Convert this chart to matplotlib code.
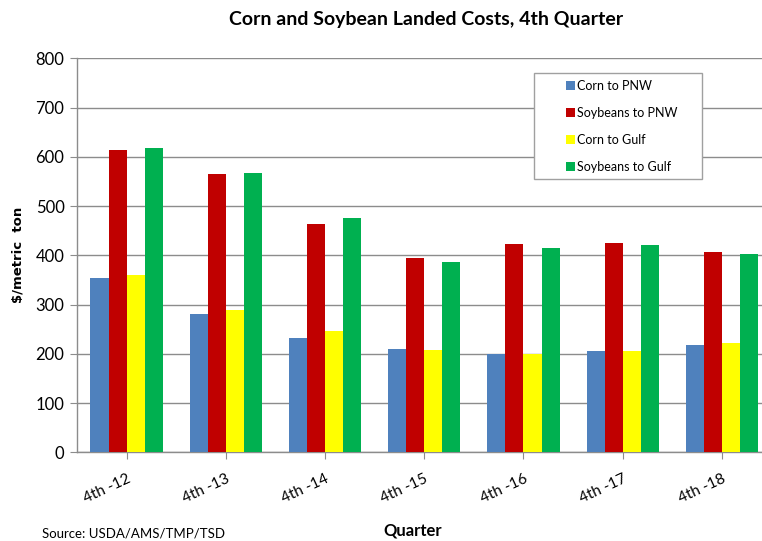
import numpy as np
import matplotlib
matplotlib.use("Agg")
import matplotlib.pyplot as plt
from matplotlib.patches import Rectangle

# Landed costs, $/metric ton, 4th quarter of each year
quarters = ['4th -12', '4th -13', '4th -14', '4th -15', '4th -16', '4th -17', '4th -18']
corn_pnw = [353, 281, 232, 210, 200, 205, 218]
soy_pnw = [614, 565, 463, 394, 423, 425, 407]
corn_gulf = [361, 289, 246, 208, 199, 206, 221]
soy_gulf = [617, 567, 475, 387, 414, 421, 403]

series = [
    ('Corn to PNW', corn_pnw, '#4F81BD'),
    ('Soybeans to PNW', soy_pnw, '#C00000'),
    ('Corn to Gulf', corn_gulf, '#FFFF00'),
    ('Soybeans to Gulf', soy_gulf, '#00B050'),
]

plt.rcParams['font.family'] = ['Lato', 'DejaVu Sans']

W, H = 762, 541
fig = plt.figure(figsize=(W / 100, H / 100), dpi=100)
ax = fig.add_axes([77 / W, 1 - 452.3 / H, 694.5 / W, 394 / H])

x = np.arange(len(quarters))
bw = 0.182
for i, (name, vals, col) in enumerate(series):
    ax.bar(x + (i - 1.5) * bw, vals, width=bw, color=col, label=name, zorder=3)

ax.set_xlim(-0.5, len(quarters) - 0.5)
ax.set_ylim(0, 800)
ax.set_yticks(range(0, 801, 100))
ax.grid(axis='y', color='#8c8c8c', linewidth=1, zorder=0)
ax.set_axisbelow(True)

for s in ['top', 'right']:
    ax.spines[s].set_visible(False)
for s in ['left', 'bottom']:
    ax.spines[s].set_color('#8c8c8c')
    ax.spines[s].set_linewidth(1)

ax.set_xticks(x)
ax.set_xticklabels(quarters, rotation=25, ha='right', rotation_mode='anchor', fontsize=11)
ax.tick_params(axis='x', length=5, color='#8c8c8c', pad=9)
ax.tick_params(axis='y', length=5, color='#8c8c8c', labelsize=12, pad=4)

fig.text(426 / W, 1 - 20 / H, 'Corn and Soybean Landed Costs, 4th Quarter',
         ha='center', va='center', fontsize=14, fontweight='bold')
fig.text(18 / W, 1 - 255 / H, '$/metric  ton', rotation=90, ha='center', va='center',
         fontsize=9.5, fontweight='bold', family='DejaVu Sans')
fig.text(413 / W, 1 - 530 / H, 'Quarter', ha='center', va='center',
         fontsize=12, fontweight='bold')
fig.text(42 / W, 1 - 534 / H, 'Source: USDA/AMS/TMP/TSD', ha='left', va='center',
         fontsize=9.5)

# legend frame drawn separately so the entries can sit inset from the left
ax.add_patch(Rectangle((534 / W, 1 - 179 / H), (702 - 534) / W, (179 - 73.3) / H,
                       transform=fig.transFigure, facecolor='white', clip_on=False,
                       edgecolor='#a0a0a0', linewidth=1, zorder=5))
leg = ax.legend(loc='upper left', bbox_to_anchor=(566 / W, 1 - 80 / H),
                bbox_transform=fig.transFigure, frameon=False, fontsize=9,
                handlelength=0.7, handleheight=0.7, handletextpad=0.2,
                labelspacing=1.2, borderpad=0, borderaxespad=0)
leg.set_zorder(6)

fig.savefig('out.png', dpi=100)
